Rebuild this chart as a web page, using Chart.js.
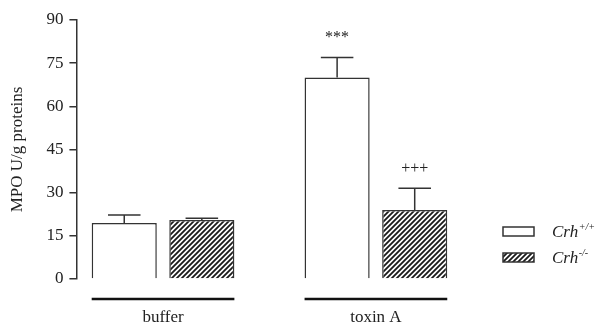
<!DOCTYPE html>
<html>
<head>
<meta charset="utf-8">
<script src="https://cdn.jsdelivr.net/npm/chart.js@4.4.1/dist/chart.umd.min.js"></script>
<style>
  html, body { margin: 0; padding: 0; background: #fff; }
  #wrap { width: 599px; height: 326px; }
</style>
</head>
<body>
<div id="wrap"><canvas id="c" width="599" height="326"></canvas></div>
<script>
// ---- data ----
const categories = ['buffer', 'toxin A'];
const seriesNames = ['Crh+/+', 'Crh-/-'];
const wtValues = [19.5, 70.0];
const wtErrors = [2.7, 7.0];
const koValues = [20.5, 24.0];
const koErrors = [0.6, 7.5];
const wtMarks = ['', '***'];
const koMarks = ['', '+++'];
const yTicks = [0, 15, 30, 45, 60, 75, 90];

const FONT = "'Liberation Serif', 'Times New Roman', serif";
const INK = '#222';

function makeHatch() {
  const s = 5;
  const p = document.createElement('canvas');
  p.width = s; p.height = s;
  const g = p.getContext('2d');
  g.fillStyle = '#fff';
  g.fillRect(0, 0, s, s);
  g.strokeStyle = '#1a1a1a';
  g.lineWidth = 1.8;
  g.beginPath();
  g.moveTo(-1, s + 1); g.lineTo(s + 1, -1);
  g.moveTo(-1, 1); g.lineTo(1, -1);
  g.moveTo(s - 1, s + 1); g.lineTo(s + 1, s - 1);
  g.stroke();
  return g.createPattern(p, 'repeat');
}
const ctx0 = document.getElementById('c').getContext('2d');
const hatch = makeHatch();

const toPoints = (vals) => vals.map((v, i) => ({ x: i, y: v }));

const errorBars = {
  id: 'errorBars',
  afterDatasetsDraw(chart) {
    const ctx = chart.ctx;
    const ys = chart.scales.y;
    ctx.save();
    chart.data.datasets.forEach((ds, di) => {
      const meta = chart.getDatasetMeta(di);
      meta.data.forEach((el, i) => {
        const v = ds.data[i].y;
        const e = ds.errors[i];
        const top = ys.getPixelForValue(v + e);
        const cap = el.width * 0.5;
        ctx.strokeStyle = '#333';
        ctx.lineWidth = 1.5;
        ctx.beginPath();
        ctx.moveTo(el.x, el.y);
        ctx.lineTo(el.x, top);
        ctx.moveTo(el.x - cap / 2, top);
        ctx.lineTo(el.x + cap / 2, top);
        ctx.stroke();
        const m = ds.marks[i];
        if (m) {
          ctx.fillStyle = '#222';
          ctx.font = '16px ' + FONT;
          ctx.textAlign = 'center';
          ctx.textBaseline = 'middle';
          ctx.fillText(m, el.x, top - 20);
        }
      });
    });
    // group underlines
    categories.forEach((c, i) => {
      let l = Infinity, r = -Infinity;
      chart.data.datasets.forEach((ds, di) => {
        const el = chart.getDatasetMeta(di).data[i];
        l = Math.min(l, el.x - el.width / 2);
        r = Math.max(r, el.x + el.width / 2);
      });
      ctx.strokeStyle = '#111';
      ctx.lineWidth = 2.5;
      ctx.beginPath();
      ctx.moveTo(l, chart.chartArea.bottom + 20);
      ctx.lineTo(r, chart.chartArea.bottom + 20);
      ctx.stroke();
    });
    ctx.restore();
  }
};

const sideLegend = {
  id: 'sideLegend',
  afterDraw(chart) {
    const ctx = chart.ctx;
    const x0 = chart.chartArea.right + 33;
    const rows = [227, 253];
    ctx.save();
    chart.data.datasets.forEach((ds, di) => {
      const y = rows[di];
      ctx.fillStyle = ds.backgroundColor;
      ctx.fillRect(x0, y, 31, 9);
      ctx.strokeStyle = '#333';
      ctx.lineWidth = 1.5;
      ctx.strokeRect(x0, y, 31, 9);
      const name = ds.label;
      const base = name.slice(0, 3);
      const sup = name.slice(3);
      ctx.fillStyle = INK;
      ctx.textBaseline = 'alphabetic';
      ctx.textAlign = 'left';
      ctx.font = 'italic 17px ' + FONT;
      const tx = x0 + 49;
      const by = y + 10;
      ctx.fillText(base, tx, by);
      const w = ctx.measureText(base).width;
      ctx.font = 'italic 10px ' + FONT;
      ctx.fillText(sup, tx + w + 0.5, by - 7);
    });
    ctx.restore();
  }
};

new Chart(ctx0, {
  type: 'bar',
  data: {
    datasets: [
      { label: seriesNames[0], data: toPoints(wtValues), errors: wtErrors, marks: wtMarks,
        backgroundColor: '#ffffff', borderColor: '#333', borderWidth: 1.5,
        categoryPercentage: 0.729, barPercentage: 0.839 },
      { label: seriesNames[1], data: toPoints(koValues), errors: koErrors, marks: koMarks,
        backgroundColor: hatch, borderColor: '#333', borderWidth: 1.5,
        categoryPercentage: 0.729, barPercentage: 0.839 }
    ]
  },
  options: {
    responsive: false,
    animation: false,
    events: [],
    layout: { padding: { top: 20, right: 129, left: 7, bottom: 0 } },
    plugins: { legend: { display: false }, tooltip: { enabled: false } },
    scales: {
      x: {
        type: 'linear',
        offset: false,
        min: -0.407,
        max: 1.442,
        afterBuildTicks(scale) { scale.ticks = categories.map((c, i) => ({ value: i })); },
        afterFit(scale) { scale.height = 47; },
        grid: { display: false, drawTicks: false },
        border: { display: false },
        ticks: {
          padding: 28,
          maxRotation: 0,
          minRotation: 0,
          autoSkip: false,
          color: INK,
          font: { family: FONT, size: 17 },
          callback: (v) => categories[v] ?? ''
        }
      },
      y: {
        min: 0,
        max: 90,
        afterBuildTicks(scale) { scale.ticks = yTicks.map(v => ({ value: v })); },
        grid: { display: true, drawOnChartArea: false, drawTicks: true, tickLength: 7, color: '#333', lineWidth: 1.5 },
        border: { display: true, color: '#333', width: 1.5 },
        ticks: { padding: 6, color: INK, font: { family: FONT, size: 17 } },
        title: {
          display: true,
          text: 'MPO U/g proteins',
          color: INK,
          font: { family: FONT, size: 17 },
          padding: { top: 0, bottom: 13 }
        }
      }
    }
  },
  plugins: [errorBars, sideLegend]
});
</script>
</body>
</html>
